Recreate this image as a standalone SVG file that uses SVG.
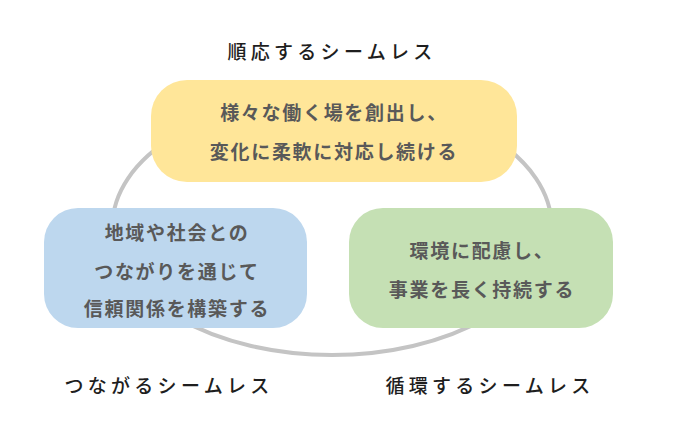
<svg xmlns="http://www.w3.org/2000/svg" width="697" height="439" viewBox="0 0 697 439">
<style>
.t{font-family:"Noto Sans CJK JP","Noto Sans",sans-serif;font-size:19px;font-weight:500;fill:#1e1e1e;letter-spacing:4.3px;text-anchor:middle}
.b{font-family:"Noto Sans CJK JP","Noto Sans",sans-serif;font-size:19px;font-weight:bold;fill:#595959;letter-spacing:1.7px;text-anchor:middle}
</style>
<rect width="697" height="439" fill="#fff"/>
<g id="connectors">
<ellipse cx="332" cy="226" rx="219.5" ry="129" fill="none" stroke="#c4c4c4" stroke-width="4"/>
</g>
<g id="top">
<rect x="151" y="80" width="366" height="102" rx="36" fill="#ffe699"/>
<text class="b" x="334" y="120">様々な働く場を創出し、</text>
<text class="b" x="334" y="159">変化に柔軟に対応し続ける</text>
</g>
<g id="left">
<rect x="44" y="208" width="263" height="120" rx="34" fill="#bdd7ee"/>
<text class="b" x="177" y="240">地域や社会との</text>
<text class="b" x="177" y="279">つながりを通じて</text>
<text class="b" x="177" y="316">信頼関係を構築する</text>
</g>
<g id="right">
<rect x="349" y="208" width="264" height="120" rx="34" fill="#c5e0b4"/>
<text class="b" x="482" y="258">環境に配慮し、</text>
<text class="b" x="482" y="297">事業を長く持続する</text>
</g>
<g id="labels">
<text class="t" x="332" y="59">順応するシームレス</text>
<text class="t" x="169" y="393">つながるシームレス</text>
<text class="t" x="490" y="393">循環するシームレス</text>
</g>
</svg>
